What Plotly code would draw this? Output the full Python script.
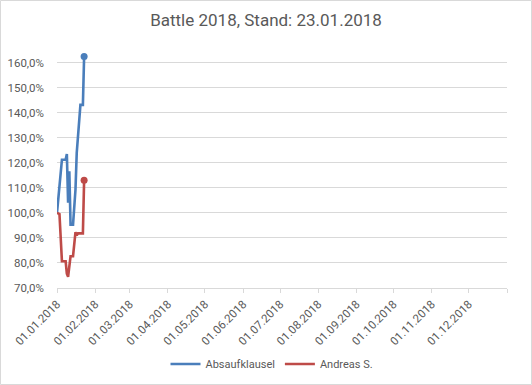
import plotly.graph_objects as go

# ---- data ----
title_text = "Battle 2018, Stand: 23.01.2018"

blue_name = "Absaufklausel"
blue_dates = ["2018-01-01", "2018-01-05", "2018-01-08", "2018-01-09", "2018-01-10",
              "2018-01-11", "2018-01-12", "2018-01-14", "2018-01-16", "2018-01-17",
              "2018-01-20", "2018-01-22", "2018-01-23"]
blue_values = [1.000, 1.212, 1.212, 1.235, 1.040,
               1.166, 0.953, 0.953, 1.093, 1.239,
               1.431, 1.431, 1.624]

red_name = "Andreas S."
red_dates = ["2018-01-01", "2018-01-03", "2018-01-05", "2018-01-08", "2018-01-09",
             "2018-01-10", "2018-01-12", "2018-01-14", "2018-01-16", "2018-01-17",
             "2018-01-18", "2018-01-22", "2018-01-23"]
red_values = [1.000, 0.995, 0.807, 0.807, 0.757,
              0.745, 0.827, 0.827, 0.923, 0.911,
              0.918, 0.918, 1.130]

month_ticks = ["2018-01-01", "2018-02-01", "2018-03-01", "2018-04-01", "2018-05-01",
               "2018-06-01", "2018-07-01", "2018-08-01", "2018-09-01", "2018-10-01",
               "2018-11-01", "2018-12-01", "2019-01-01"]
month_labels = ["01.01.2018", "01.02.2018", "01.03.2018", "01.04.2018", "01.05.2018",
                "01.06.2018", "01.07.2018", "01.08.2018", "01.09.2018", "01.10.2018",
                "01.11.2018", "01.12.2018", ""]

y_ticks = [0.7, 0.8, 0.9, 1.0, 1.1, 1.2, 1.3, 1.4, 1.5, 1.6]

# ---- style ----
BLUE = "#4A7EBB"
RED = "#BE4B48"
TEXT = "#595959"
GRID = "#D9D9D9"
FONT = "Roboto"

W, H = 532, 385
L, R, T, B = 57, 25, 50, 97

fig = go.Figure()
for name, xs, ys, col in [(blue_name, blue_dates, blue_values, BLUE),
                          (red_name, red_dates, red_values, RED)]:
    fig.add_trace(go.Scatter(x=xs, y=ys, name=name, mode="lines",
                             line=dict(color=col, width=2.6), hoverinfo="skip",
                             legendgroup=name))
    fig.add_trace(go.Scatter(x=[xs[-1]], y=[ys[-1]], mode="markers",
                             marker=dict(color=col, size=7), showlegend=False,
                             hoverinfo="skip", legendgroup=name, cliponaxis=False))

pw = W - L - R
ph = H - T - B
fig.add_shape(type="rect", xref="paper", yref="paper",
              x0=-(L - 0.5) / pw, x1=1 + (R - 0.5) / pw,
              y0=-(B - 0.5) / ph, y1=1 + (T - 0.5) / ph,
              line=dict(color=GRID, width=1), layer="below")

fig.update_layout(
    width=W, height=H,
    margin=dict(l=L, r=R, t=T, b=B, autoexpand=False),
    paper_bgcolor="white", plot_bgcolor="white",
    separators=",.",
    font=dict(family=FONT, size=11, color=TEXT),
    title=dict(text=title_text, font=dict(family=FONT, size=17, color=TEXT),
               x=0.5, xanchor="center", xref="container",
               y=1 - 20 / H, yanchor="middle", yref="container"),
    showlegend=True,
    legend=dict(orientation="h", xref="container", yref="container",
                x=272 / W, xanchor="center", y=1 - 364 / H, yanchor="middle",
                font=dict(family=FONT, size=11, color=TEXT),
                itemwidth=30, tracegroupgap=0, bgcolor="rgba(0,0,0,0)"),
    xaxis=dict(type="date", range=["2018-01-01", "2019-01-01"],
               tickvals=month_ticks, ticktext=month_labels, tickangle=-45,
               showgrid=False, showline=True, linecolor=GRID, linewidth=1,
               ticks="outside", ticklen=4, tickcolor=GRID,
               tickfont=dict(family=FONT, size=11.5, color=TEXT),
               zeroline=False, fixedrange=True, automargin=False),
    yaxis=dict(range=[0.7, 1.65], tickvals=y_ticks, tickformat=".1%",
               showgrid=True, gridcolor=GRID, gridwidth=1,
               showline=False, ticks="", zeroline=False,
               ticklabelstandoff=12, automargin=False,
               tickfont=dict(family=FONT, size=11.5, color=TEXT), fixedrange=True),
)

fig.write_html("out.html", config={"displayModeBar": False},
               post_script="document.body.style.margin='0';document.body.style.overflow='hidden';")
